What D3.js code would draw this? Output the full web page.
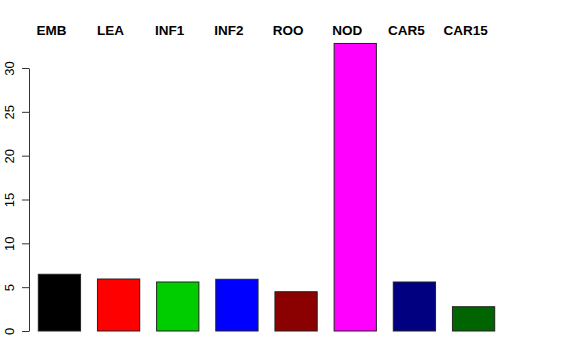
<!DOCTYPE html>
<html>
<head>
<meta charset="utf-8">
<script src="https://cdn.jsdelivr.net/npm/d3@7"></script>
<style>
  body { margin: 0; background: #fff; }
  svg { display: block; font-family: "Liberation Sans", Arial, sans-serif; }
</style>
</head>
<body>
<div id="vis"></div>
<script>
// Tissue names, bar heights and fill colours (R palette)
var tissues = ['EMB', 'LEA', 'INF1', 'INF2', 'ROO', 'NOD', 'CAR5', 'CAR15'];
var values = [6.47, 5.93, 5.59, 5.9, 4.48, 32.8, 5.59, 2.77];
var fills = ['#000000', '#ff0000', '#00cd00', '#0000ff', '#8b0000', '#ff00ff', '#000080', '#006400'];
var yTicks = [0, 5, 10, 15, 20, 25, 30];

var width = 576;
var height = 360;

var svg = d3.select('#vis')
    .append('svg')
    .attr('width', width)
    .attr('height', height);

// barplot-like positions: width 1, space 0.4
var space = 0.4;
var xScale = d3.scaleLinear()
    .domain([space, tissues.length * (1 + space)])
    .range([38.3, 494.7]);

var yScale = d3.scaleLinear()
    .domain([0, 30])
    .range([331, 68]);

function barLeft(i) { return space + i * (1 + space); }

// bars
svg.append('g')
    .selectAll('rect')
    .data(values)
    .enter()
    .append('rect')
    .attr('x', function(d, i) { return xScale(barLeft(i)); })
    .attr('width', function(d, i) { return xScale(barLeft(i) + 1) - xScale(barLeft(i)); })
    .attr('y', function(d) { return yScale(d); })
    .attr('height', function(d) { return yScale(0) - yScale(d); })
    .attr('fill', function(d, i) { return fills[i]; })
    .attr('stroke', '#222')
    .attr('stroke-width', 1);

// y axis, labels rotated like R's default las=0
var yAxis = d3.axisLeft(yScale)
    .tickValues(yTicks)
    .tickSize(7)
    .tickSizeOuter(0);

var gY = svg.append('g')
    .attr('transform', 'translate(29,0)')
    .call(yAxis);

gY.select('.domain').attr('stroke', '#333');
gY.selectAll('.tick line').attr('stroke', '#333');
gY.selectAll('.tick text')
    .attr('x', 0)
    .attr('y', 0)
    .attr('dy', 0)
    .attr('transform', 'translate(-15,0) rotate(-90)')
    .attr('text-anchor', 'middle')
    .attr('fill', '#000')
    .style('font-size', '13px')
    .style('font-family', '"Liberation Sans", Arial, sans-serif');

// tissue names across the top
svg.append('g')
    .selectAll('text')
    .data(tissues)
    .enter()
    .append('text')
    .attr('x', function(d, i) { return xScale(barLeft(i) + 0.5) - 8; })
    .attr('y', 35)
    .attr('text-anchor', 'middle')
    .style('font-size', '13.5px')
    .style('font-weight', 'bold')
    .text(function(d) { return d; });
</script>
</body>
</html>
